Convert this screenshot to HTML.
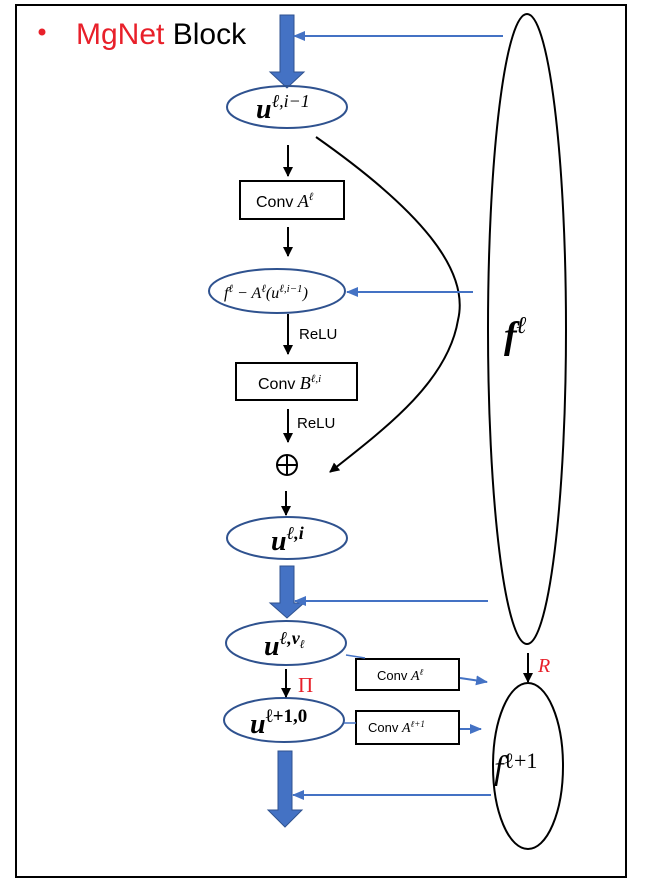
<!DOCTYPE html>
<html><head><meta charset="utf-8"><style>
body{margin:0;background:#fff;}
svg{display:block;}
.m{font-family:"Liberation Serif",serif;font-style:italic;}
.s{font-family:"Liberation Sans",sans-serif;}
</style></head><body>
<svg width="646" height="886" viewBox="0 0 646 886" xmlns="http://www.w3.org/2000/svg">
<defs>
<marker id="ab" markerWidth="10" markerHeight="10" refX="9" refY="5" orient="auto" markerUnits="userSpaceOnUse"><path d="M0,0 L10,5 L0,10 z" fill="#000"/></marker>
<marker id="bb" markerWidth="12" markerHeight="10" refX="11" refY="5" orient="auto" markerUnits="userSpaceOnUse"><path d="M0,0 L12,5 L0,10 z" fill="#4472c4"/></marker>
</defs>
<rect x="16" y="5" width="610" height="872" fill="none" stroke="#000" stroke-width="2"/>
<circle cx="42" cy="32" r="3.5" fill="#e8202a"/>
<text x="76" y="44" class="s" font-size="30" fill="#e8202a">MgNet <tspan fill="#000">Block</tspan></text>

<g fill="#4472c4" stroke="#2f528f" stroke-width="1">
<path d="M280,15 H294 V72 H304 L287,88 L270,72 H280 Z"/>
<path d="M280,566 H294 V603 H304 L287,618 L270,603 H280 Z"/>
<path d="M278,751 H292 V810 H302 L285,827 L268,810 H278 Z"/>
</g>

<g fill="none" stroke="#2f528f" stroke-width="2">
<ellipse cx="287" cy="107" rx="60" ry="21"/>
<ellipse cx="277" cy="291" rx="68" ry="22"/>
<ellipse cx="287" cy="538" rx="60" ry="21"/>
<ellipse cx="286" cy="643" rx="60" ry="22"/>
<ellipse cx="284" cy="720" rx="60" ry="22"/>
</g>
<g fill="none" stroke="#000" stroke-width="2">
<ellipse cx="527" cy="329" rx="39" ry="315"/>
<ellipse cx="528" cy="766" rx="35" ry="83"/>
<circle cx="287" cy="465" r="10"/>
<line x1="277" y1="465" x2="297" y2="465"/>
<line x1="287" y1="455" x2="287" y2="475"/>
</g>

<g fill="#fff" stroke="#000" stroke-width="2">
<rect x="240" y="181" width="104" height="38"/>
<rect x="236" y="363" width="121" height="37"/>
<rect x="356" y="659" width="103" height="31"/>
<rect x="356" y="711" width="103" height="33"/>
</g>

<g stroke="#000" stroke-width="2" marker-end="url(#ab)">
<line x1="288" y1="145" x2="288" y2="176"/>
<line x1="288" y1="227" x2="288" y2="256"/>
<line x1="288" y1="314" x2="288" y2="354"/>
<line x1="288" y1="409" x2="288" y2="442"/>
<line x1="286" y1="491" x2="286" y2="515"/>
<line x1="286" y1="669" x2="286" y2="697"/>
<line x1="528" y1="653" x2="528" y2="682"/>
</g>
<path d="M316,137 C420,210 470,270 458,320 C448,380 390,425 330,472" fill="none" stroke="#000" stroke-width="2" marker-end="url(#ab)"/>

<g stroke="#4472c4" stroke-width="2" fill="none" marker-end="url(#bb)">
<line x1="503" y1="36" x2="294" y2="36"/>
<line x1="473" y1="292" x2="347" y2="292"/>
<line x1="488" y1="601" x2="295" y2="601"/>
<line x1="491" y1="795" x2="293" y2="795"/>
<line x1="460" y1="678" x2="487" y2="682"/>
<line x1="460" y1="729" x2="481" y2="729"/>
</g>
<g stroke="#4472c4" stroke-width="1.5">
<line x1="346" y1="655" x2="365" y2="658"/>
<line x1="344" y1="723" x2="356" y2="723"/>
</g>

<text x="256" y="118" class="m" font-size="28" font-weight="bold">u<tspan font-size="18" dy="-11" font-weight="normal">ℓ,i−1</tspan></text>
<text x="256" y="207" class="s" font-size="16">Conv <tspan class="m" font-size="18">A</tspan><tspan class="m" font-size="11" dy="-7">ℓ</tspan></text>
<text x="224" y="298" class="m" font-size="16">f<tspan font-size="11" dy="-6">ℓ</tspan><tspan dy="6"> − A</tspan><tspan font-size="11" dy="-6">ℓ</tspan><tspan dy="6">(u</tspan><tspan font-size="11" dy="-6">ℓ,i−1</tspan><tspan dy="6">)</tspan></text>
<text x="299" y="339" class="s" font-size="15">ReLU</text>
<text x="258" y="389" class="s" font-size="16">Conv <tspan class="m" font-size="18">B</tspan><tspan class="m" font-size="11" dy="-7">ℓ,i</tspan></text>
<text x="297" y="428" class="s" font-size="15">ReLU</text>
<text x="271" y="550" class="m" font-size="28" font-weight="bold">u<tspan font-size="18" dy="-11">ℓ,i</tspan></text>
<text x="264" y="655" class="m" font-size="28" font-weight="bold">u<tspan font-size="18" dy="-11">ℓ,ν</tspan><tspan font-size="12" dy="4">ℓ</tspan></text>
<text x="298" y="692" font-family="Liberation Serif,serif" font-size="21" fill="#e8202a">Π</text>
<text x="250" y="733" class="m" font-size="28" font-weight="bold">u<tspan font-size="19" dy="-11" font-style="normal">ℓ+1,0</tspan></text>
<text x="377" y="680" class="s" font-size="13">Conv  <tspan class="m" font-size="14">A</tspan><tspan class="m" font-size="9" dy="-5">ℓ</tspan></text>
<text x="368" y="732" class="s" font-size="13">Conv  <tspan class="m" font-size="14">A</tspan><tspan class="m" font-size="9" dy="-5">ℓ+1</tspan></text>
<text x="538" y="672" class="m" font-size="20" fill="#e8202a">R</text>
<text x="504" y="348" class="m" font-size="38" font-weight="bold">f<tspan font-size="24" dy="-15">ℓ</tspan></text>
<text x="494" y="779" class="m" font-size="34">f<tspan font-size="22" dy="-11" font-style="normal">ℓ+1</tspan></text>
</svg>
</body></html>
